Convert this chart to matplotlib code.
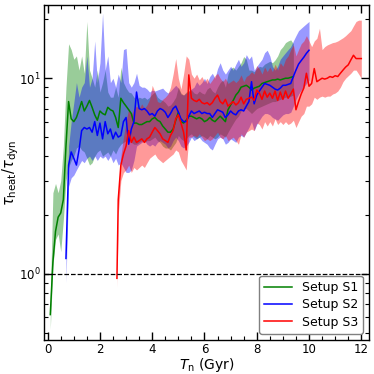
import numpy as np
import matplotlib
matplotlib.use("Agg")
import matplotlib.pyplot as plt
from matplotlib.ticker import MultipleLocator

# Setup S1 (green)
t_s1 = np.round(np.arange(0.1, 9.45, 0.1), 2)
mid_s1 = [0.62, 1.15, 1.65, 1.95, 2.05, 2.4, 4.5, 7.6, 6.2, 6.0,
          6.3, 6.9, 7.6, 6.8, 7.2, 7.7, 7.1, 6.5, 6.1, 6.8,
          6.6, 6.5, 7.1, 6.9, 6.8, 6.3, 5.6, 7.9, 7.5, 7.2,
          6.9, 6.6, 5.9, 5.9, 5.8, 5.8, 5.9, 6.0, 6.0, 6.2,
          6.3, 6.1, 6.0, 5.7, 5.5, 5.3, 5.3, 5.5, 6.1, 6.7,
          6.0, 5.9, 6.1, 6.4, 6.4, 6.3, 6.2, 6.3, 6.2, 6.0,
          6.1, 6.3, 6.1, 6.0, 6.2, 6.4, 6.2, 6.0, 6.9, 7.3,
          7.7, 8.2, 8.5, 9.0, 9.1, 9.2, 9.0, 8.7, 8.9, 9.0,
          9.1, 9.4, 9.5, 9.6, 9.7, 9.8, 9.8, 9.9, 9.8, 9.9,
          10.0, 10.0, 10.1, 10.2]
hi_s1 = [0.75, 2.6, 2.9, 2.6, 3.0, 4.5, 9.0, 15.0, 14.0, 12.5,
         13.0, 11.0, 13.0, 10.6, 19.5, 11.0, 10.0, 9.0, 11.0, 8.5,
         9.5, 11.0, 8.5, 8.0, 8.0, 9.0, 8.0, 11.4, 9.5, 8.9,
         8.5, 8.4, 8.0, 7.8, 8.0, 7.9, 8.0, 7.8, 8.0, 8.3,
         8.5, 8.0, 7.8, 7.7, 7.5, 7.2, 7.3, 7.6, 8.0, 9.0,
         8.4, 8.2, 8.5, 8.6, 8.7, 8.4, 8.3, 8.6, 8.4, 8.3,
         8.8, 9.0, 8.6, 8.4, 9.0, 9.5, 9.8, 9.0, 10.5, 11.2,
         11.4, 11.0, 11.5, 12.0, 12.9, 12.5, 11.0, 11.0, 10.8, 11.2,
         11.5, 11.4, 11.8, 12.0, 12.2, 12.0, 12.4, 13.0, 14.0, 14.5,
         15.2, 15.5, 15.7, 15.0]
lo_s1 = [0.52, 1.1, 1.5, 1.6, 1.3, 1.9, 3.0, 3.5, 3.8, 4.0,
         4.4, 4.5, 4.3, 4.2, 3.9, 3.6, 3.7, 4.0, 4.2, 4.3,
         4.0, 4.1, 4.2, 4.0, 4.3, 4.1, 4.4, 4.6, 4.7, 4.8,
         4.9, 4.7, 4.6, 4.6, 4.7, 4.8, 4.7, 4.8, 4.8, 4.9,
         5.0, 4.8, 4.7, 4.5, 4.4, 4.4, 4.3, 4.5, 4.7, 5.1,
         4.9, 4.8, 4.9, 5.1, 5.2, 5.0, 4.9, 5.0, 5.1, 5.0,
         4.9, 5.1, 5.0, 4.9, 5.0, 5.2, 5.1, 5.0, 5.3, 5.6,
         5.9, 6.2, 6.4, 6.8, 7.0, 7.0, 6.8, 6.6, 6.8, 7.0,
         7.1, 7.2, 7.3, 7.4, 7.5, 7.6, 7.6, 7.7, 7.8, 7.9,
         8.0, 8.0, 8.1, 8.2]

# Setup S2 (blue)
t_s2 = np.round(np.arange(0.7, 10.05, 0.1), 2)
mid_s2 = [1.2, 3.6, 4.2, 3.9, 3.6, 4.3, 5.4, 5.6, 5.5, 5.6,
          5.3, 6.0, 5.1, 5.9, 4.9, 6.0, 5.2, 5.5, 4.9, 5.3,
          5.0, 5.1, 6.0, 6.3, 4.6, 5.5, 6.0, 8.5, 7.0, 6.9,
          7.0, 6.8, 6.5, 6.6, 6.4, 6.8, 7.0, 6.9, 6.7, 6.3,
          6.6, 7.0, 7.2, 6.7, 6.2, 6.0, 6.0, 6.4, 6.8, 6.6,
          6.7, 6.8, 6.6, 6.7, 6.6, 6.6, 6.3, 6.6, 6.9, 6.8,
          6.7, 6.3, 6.5, 6.8, 6.6, 6.5, 6.8, 6.9, 6.8, 7.2,
          7.6, 9.6, 7.4, 8.2, 8.6, 9.0, 9.4, 9.3, 9.2, 9.0,
          8.8, 8.7, 8.9, 9.2, 9.2, 9.3, 9.4, 10.2, 11.0, 11.8,
          12.3, 12.8, 13.4, 13.9]
hi_s2 = [1.3, 4.5, 6.0, 7.5, 9.5, 8.0, 9.0, 9.5, 13.0, 9.0,
         10.0, 15.5, 9.5, 12.0, 21.5, 11.0, 13.0, 9.5, 10.0, 9.0,
         10.5, 9.5, 14.0, 14.2, 9.5, 9.0, 9.5, 10.6, 9.2, 9.0,
         9.0, 8.8, 8.5, 8.7, 8.6, 8.7, 8.8, 8.9, 8.6, 8.4,
         8.6, 8.9, 9.2, 8.9, 8.3, 8.2, 8.4, 8.6, 8.8, 9.0,
         9.6, 9.2, 9.5, 10.0, 9.4, 10.2, 10.6, 10.0, 11.2, 12.0,
         11.0, 10.5, 11.0, 11.5, 11.0, 11.8, 12.5, 11.5, 12.0, 13.2,
         12.5, 13.0, 11.0, 11.5, 12.0, 12.5, 13.5, 13.9, 13.0, 11.5,
         11.0, 11.5, 12.5, 13.0, 13.5, 14.0, 14.5, 15.5, 16.5, 17.5,
         18.0, 18.5, 19.0, 19.5]
lo_s2 = [0.9, 2.8, 3.1, 3.2, 3.4, 3.6, 3.8, 3.7, 3.9, 4.0,
         3.8, 4.0, 3.8, 4.0, 3.9, 4.0, 3.8, 4.0, 3.7, 3.9,
         3.6, 3.7, 3.5, 3.3, 3.3, 3.4, 3.8, 4.5, 4.6, 4.7,
         4.8, 4.6, 4.5, 4.6, 4.5, 4.7, 4.8, 4.7, 4.6, 4.4,
         4.5, 4.8, 5.0, 4.8, 4.5, 4.4, 4.5, 4.7, 5.0, 4.8,
         4.9, 5.0, 4.8, 4.7, 4.6, 4.4, 4.3, 4.6, 4.9, 5.0,
         4.9, 4.6, 4.7, 4.9, 4.8, 4.7, 5.0, 5.1, 5.0, 5.3,
         5.6, 6.0, 5.4, 5.8, 6.1, 6.4, 6.6, 6.6, 6.5, 6.3,
         6.2, 6.1, 6.3, 6.5, 6.6, 6.6, 6.7, 7.2, 7.8, 8.3,
         8.7, 9.0, 9.4, 9.8]

# Setup S3 (red)
t_s3 = np.concatenate([[2.65], np.round(np.arange(2.7, 12.05, 0.1), 2)])
mid_s3 = [0.95, 2.4, 3.6, 4.1, 4.5, 5.4, 4.7, 5.0, 4.7, 4.8,
          4.9, 4.7, 4.9, 5.0, 5.3, 5.6, 5.4, 5.2, 4.9, 4.8,
          4.7, 5.1, 5.4, 6.2, 6.5, 5.9, 5.3, 4.3, 10.4, 7.9,
          7.7, 7.6, 7.8, 7.5, 7.4, 7.5, 7.3, 7.5, 7.9, 8.2,
          7.6, 7.4, 7.8, 7.2, 7.4, 7.6, 7.3, 7.5, 8.0, 7.4,
          7.8, 7.9, 8.0, 7.7, 8.7, 8.4, 7.8, 8.6, 8.0, 8.4,
          7.9, 8.6, 7.7, 8.5, 7.8, 8.6, 7.9, 8.3, 8.8, 6.9,
          7.6, 8.3, 8.9, 10.6, 9.1, 9.4, 11.2, 9.6, 9.8, 10.0,
          9.9, 10.0, 10.2, 10.1, 10.3, 10.2, 10.6, 11.0, 11.4, 11.7,
          12.4, 13.1, 12.6, 12.6, 12.6]
hi_s3 = [1.0, 2.6, 4.0, 5.0, 6.0, 7.0, 6.5, 7.0, 7.2, 7.0,
         7.4, 7.0, 7.3, 7.8, 9.2, 8.5, 7.6, 7.5, 7.8, 8.0,
         8.3, 9.0, 10.5, 12.6, 10.0, 8.8, 10.5, 13.0, 12.5, 10.5,
         10.0, 10.5, 9.8, 10.2, 9.6, 10.0, 9.4, 9.8, 10.3, 10.6,
         10.0, 9.6, 10.0, 9.4, 9.6, 9.8, 9.5, 9.8, 10.4, 9.6,
         10.2, 10.4, 10.8, 10.5, 11.6, 11.2, 10.5, 11.4, 10.8, 11.4,
         10.8, 11.8, 11.0, 12.0, 11.5, 12.5, 13.0, 14.0, 14.8, 13.0,
         14.0, 15.0, 15.5, 16.5, 15.5, 14.5, 15.5, 16.0, 18.0, 14.0,
         14.5, 14.8, 15.0, 15.2, 15.3, 15.5, 15.8, 16.1, 16.5, 17.0,
         17.5, 18.5, 19.5, 19.8, 19.8]
lo_s3 = [0.85, 2.0, 3.0, 3.3, 3.4, 3.6, 3.3, 3.5, 3.4, 3.5,
         3.6, 3.5, 3.7, 3.9, 4.0, 4.1, 3.9, 3.8, 3.7, 3.8,
         3.9, 4.0, 4.1, 4.3, 4.2, 3.8, 3.6, 3.4, 5.0, 5.0,
         5.1, 5.0, 5.2, 5.0, 4.8, 4.9, 4.8, 4.9, 5.1, 5.3,
         5.0, 4.9, 5.1, 4.8, 4.9, 5.0, 4.8, 4.6, 5.2, 5.0,
         5.3, 5.4, 5.5, 5.4, 5.9, 5.8, 5.5, 6.0, 5.7, 6.0,
         5.7, 6.2, 5.8, 6.0, 5.8, 6.0, 5.8, 5.9, 6.1, 5.6,
         6.0, 6.4, 6.6, 7.2, 7.2, 7.4, 8.0, 7.8, 8.0, 8.1,
         8.0, 8.1, 8.1, 8.3, 8.4, 8.6, 9.0, 9.6, 10.0, 10.3,
         10.6, 11.0, 11.0, 10.5, 10.0]

series = [
    (t_s1, mid_s1, lo_s1, hi_s1, "green", "Setup S1"),
    (t_s2, mid_s2, lo_s2, hi_s2, "blue", "Setup S2"),
    (t_s3, mid_s3, lo_s3, hi_s3, "red", "Setup S3"),
]

fig = plt.figure(figsize=(3.74, 3.74), dpi=100)
ax = fig.add_axes([0.117, 0.091, 0.87, 0.896])

for t, mid, lo, hi, col, lab in series:
    ax.fill_between(t, lo, hi, color=col, alpha=0.4, lw=0)
    ax.plot(t, mid, color=col, lw=1.1, label=lab)

ax.axhline(1.0, color="black", ls="--", lw=0.9)

ax.set_yscale("log")
ax.set_xlim(-0.15, 12.3)
ax.set_ylim(0.46, 23.7)
ax.xaxis.set_major_locator(MultipleLocator(2))
ax.xaxis.set_minor_locator(MultipleLocator(0.5))
ax.tick_params(which="both", direction="in", top=True, right=True,
               labelsize=8.5, pad=2)
ax.tick_params(which="major", length=6, width=1)
ax.tick_params(which="minor", length=3, width=0.8)
for s in ax.spines.values():
    s.set_linewidth(1.0)

ax.set_xlabel(r"$T_{\rm n}$ (Gyr)", fontsize=10, labelpad=0)
ax.set_ylabel(r"$\tau_{\rm heat}/\tau_{\rm dyn}$", fontsize=10.5, labelpad=-1)

ax.legend(loc="lower right", fontsize=9, framealpha=1, edgecolor="grey",
          handlelength=2.2, borderpad=0.4, labelspacing=0.35)

fig.savefig("out.png", dpi=100)
